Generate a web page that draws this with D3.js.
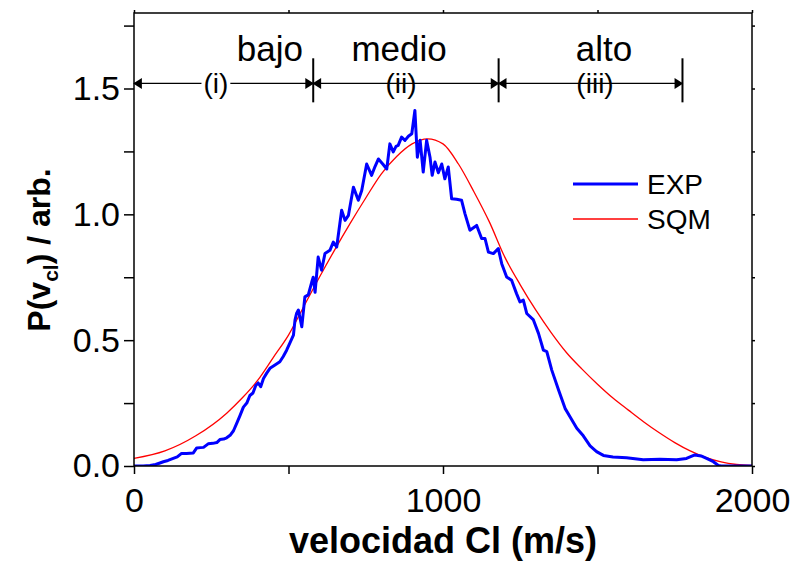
<!DOCTYPE html>
<html>
<head>
<meta charset="utf-8">
<script src="https://cdn.jsdelivr.net/npm/d3@7"></script>
<style>
  body { margin: 0; background: #fff; }
  svg { display: block; font-family: "Liberation Sans", Arial, sans-serif; }
</style>
</head>
<body>
<svg id="chart" width="793" height="563"></svg>
<script>
// EXP (velocity, P)
var expData = [
  [0,0],[30,0],[52,0.002],[70,0.006],[84,0.012],[95,0.017],[110,0.022],[127,0.03],[140,0.036],
  [154,0.05],[170,0.05],[192,0.052],[203,0.072],[215,0.073],[225,0.074],[240,0.088],[255,0.09],
  [268,0.093],[278,0.105],[290,0.107],[300,0.112],[311,0.122],[322,0.14],[332,0.168],[343,0.2],
  [354,0.234],[365,0.25],[375,0.28],[385,0.29],[394,0.32],[402,0.33],[410,0.315],[419,0.348],
  [430,0.37],[440,0.388],[455,0.4],[472,0.414],[483,0.435],[494,0.46],[505,0.49],[516,0.52],
  [521,0.58],[526,0.606],[532,0.62],[543,0.553],[553,0.672],[564,0.68],[575,0.73],[580,0.75],
  [586,0.69],[596,0.83],[607,0.778],[618,0.844],[634,0.857],[645,0.89],[656,0.87],[672,1.016],
  [683,0.976],[694,0.996],[710,1.108],[726,1.056],[737,1.095],[753,1.2],[769,1.155],[780,1.19],
  [791,1.22],[805,1.2],[818,1.18],[828,1.28],[839,1.248],[848,1.27],[855,1.274],[866,1.307],
  [877,1.294],[888,1.31],[899,1.32],[909,1.413],[917,1.227],[926,1.294],[936,1.168],[947,1.294],
  [958,1.227],[965,1.155],[974,1.208],[985,1.165],[996,1.2],[1006,1.141],[1017,1.188],[1028,1.062],
  [1044,1.06],[1060,1.056],[1071,1.003],[1087,0.937],[1109,0.956],[1125,0.904],[1136,0.904],
  [1147,0.85],[1163,0.844],[1179,0.864],[1190,0.804],[1206,0.751],[1222,0.738],[1238,0.685],
  [1249,0.652],[1260,0.659],[1271,0.606],[1292,0.582],[1309,0.527],[1325,0.46],[1336,0.454],
  [1352,0.381],[1374,0.302],[1395,0.229],[1411,0.196],[1433,0.15],[1454,0.12],[1476,0.08],
  [1497,0.057],[1519,0.042],[1550,0.036],[1594,0.033],[1648,0.025],[1702,0.027],[1756,0.025],
  [1788,0.03],[1815,0.044],[1835,0.04],[1853,0.03],[1875,0.017],[1891,0.002],[1900,0],[2000,0]
];

// SQM model curve
var sqmX = [0,100,200,300,350,400,450,500,550,600,650,700,750,800,850,900,950,1000,1050,1100,1150,
            1200,1250,1300,1350,1400,1450,1500,1550,1600,1650,1700,1750,1800,1850,1900,1950,2000];
var sqmY = [0.03,0.06,0.12,0.21,0.27,0.34,0.43,0.52,0.635,0.75,0.86,0.965,1.065,1.16,1.23,1.28,
            1.30,1.28,1.20,1.09,0.97,0.83,0.72,0.62,0.53,0.45,0.385,0.325,0.27,0.222,0.175,0.132,
            0.093,0.06,0.034,0.016,0.006,0.002];

var xTicks = [0, 1000, 2000];
var xMinor = [500, 1500];
var yTicks = [0, 0.5, 1.0, 1.5];
var yMinor = [0.25, 0.75, 1.25, 1.75];

// velocity ranges
var bounds = [0, 580, 1180, 1775];
var rangeNames = ["bajo", "medio", "alto"];
var rangeNameX = [440, 858, 1521];
var rangeTags = ["(i)", "(ii)", "(iii)"];
var rangeTagX = [265, 864, 1492];

var svg = d3.select("#chart");
var margin = {left: 134, right: 41, top: 13, bottom: 97};
var W = 793, H = 563;

var x = d3.scaleLinear().domain([0, 2000]).range([margin.left, W - margin.right]);
var y = d3.scaleLinear().domain([0, 1.8]).range([H - margin.bottom, margin.top]);

var defs = svg.append("defs");
defs.append("clipPath").attr("id", "clip").append("rect")
  .attr("x", x(0)).attr("y", y(1.8)).attr("width", x(2000) - x(0)).attr("height", y(0) - y(1.8));

// curves
var line = d3.line().x(function (d) { return x(d[0]); }).y(function (d) { return y(d[1]); });
var plot = svg.append("g").attr("clip-path", "url(#clip)");

plot.append("path")
  .datum(sqmX.map(function (v, i) { return [v, sqmY[i]]; }))
  .attr("fill", "none").attr("stroke", "#ff0000").attr("stroke-width", 1.3)
  .attr("d", d3.line().x(function (d) { return x(d[0]); }).y(function (d) { return y(d[1]); })
    .curve(d3.curveMonotoneX));

plot.append("path")
  .datum(expData)
  .attr("fill", "none").attr("stroke", "#0000ff").attr("stroke-width", 3)
  .attr("stroke-linejoin", "round")
  .attr("d", line);

// axes
var fs = 34;
var bottom = svg.append("g").attr("transform", "translate(0," + y(0) + ")")
  .call(d3.axisBottom(x).tickValues(xTicks).tickFormat(d3.format("d")).tickSize(8).tickPadding(14));
bottom.append("g").call(d3.axisBottom(x).tickValues(xMinor).tickFormat("").tickSize(8));

var left = svg.append("g").attr("transform", "translate(" + x(0) + ",0)")
  .call(d3.axisLeft(y).tickValues(yTicks).tickFormat(d3.format(".1f")).tickSize(10).tickPadding(4));
left.append("g").call(d3.axisLeft(y).tickValues(yMinor).tickFormat("").tickSize(10));

svg.append("g").attr("transform", "translate(0," + y(1.8) + ")")
  .call(d3.axisTop(x).tickValues(xTicks.concat(xMinor)).tickFormat("").tickSize(3));
svg.append("g").attr("transform", "translate(" + x(2000) + ",0)")
  .call(d3.axisRight(y).tickValues(yTicks.concat(yMinor)).tickFormat("").tickSize(3));

svg.selectAll(".domain").remove();
svg.selectAll(".tick line").attr("stroke", "#000").attr("stroke-width", 1.5);
svg.selectAll(".tick text").attr("font-size", fs).attr("fill", "#000")
  .attr("font-family", "'Liberation Sans', Arial, sans-serif");

svg.append("rect")
  .attr("x", x(0)).attr("y", y(1.8)).attr("width", x(2000) - x(0)).attr("height", y(0) - y(1.8))
  .attr("fill", "none").attr("stroke", "#000").attr("stroke-width", 1.5);

// range annotations
var ann = svg.append("g");
var arrowY = y(1.52);
var arrow = d3.symbol().type(d3.symbolTriangle).size(36);
function head(px, dir) {
  ann.append("path").attr("d", arrow())
    .attr("transform", "translate(" + (px - dir * 5) + "," + arrowY + ") rotate(" + (dir * 90) + ") scale(1.2,1.1)")
    .attr("fill", "#000");
}
for (var i = 0; i < 3; i++) {
  var a = x(bounds[i]), b = x(bounds[i + 1]);
  ann.append("line").attr("x1", a).attr("x2", b).attr("y1", arrowY).attr("y2", arrowY)
    .attr("stroke", "#000").attr("stroke-width", 1.3);
  head(a, -1);
  head(b, 1);
  var t = ann.append("text").attr("x", x(rangeTagX[i])).attr("y", arrowY + 10)
    .attr("text-anchor", "middle").attr("font-size", 28).text(rangeTags[i]);
  var bb = t.node().getBBox();
  ann.insert("rect", "text").attr("x", bb.x - 2).attr("y", arrowY - 3)
    .attr("width", bb.width + 4).attr("height", 6).attr("fill", "#fff");
  ann.append("text").attr("x", x(rangeNameX[i])).attr("y", y(1.611))
    .attr("text-anchor", "middle").attr("font-size", 35).text(rangeNames[i]);
}
bounds.slice(1).forEach(function (v) {
  ann.append("line").attr("x1", x(v)).attr("x2", x(v)).attr("y1", y(1.62)).attr("y2", y(1.445))
    .attr("stroke", "#000").attr("stroke-width", 2);
});

// legend
var legend = svg.append("g");
var legendItems = [["EXP", "#0000ff", 3], ["SQM", "#ff0000", 1.3]];
legendItems.forEach(function (d, i) {
  var ly = 184 + i * 35;
  legend.append("line").attr("x1", 573).attr("x2", 638).attr("y1", ly).attr("y2", ly)
    .attr("stroke", d[1]).attr("stroke-width", d[2]);
  legend.append("text").attr("x", 647).attr("y", ly + 10).attr("font-size", 28).text(d[0]);
});

// axis titles
svg.append("text").attr("x", 443).attr("y", 553).attr("text-anchor", "middle")
  .attr("font-size", 36).attr("font-weight", "bold").text("velocidad Cl (m/s)");

var yt = svg.append("text").attr("transform", "translate(50,250) rotate(-90)")
  .attr("text-anchor", "middle").attr("font-size", 32).attr("font-weight", "bold");
yt.append("tspan").text("P(v");
yt.append("tspan").attr("font-size", 21).attr("dy", 8).text("cl");
yt.append("tspan").attr("dy", -8).text(") / arb.");
</script>
</body>
</html>
